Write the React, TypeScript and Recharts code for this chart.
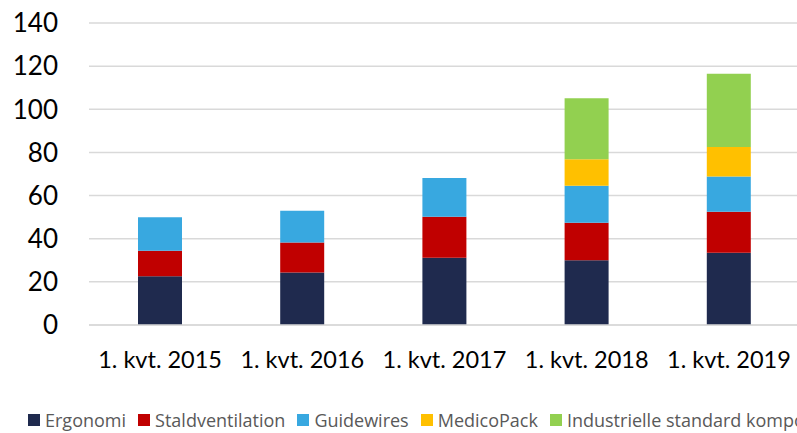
import { Bar, BarChart, CartesianGrid, XAxis, YAxis } from "recharts";

const quarters = ["1. kvt. 2015", "1. kvt. 2016", "1. kvt. 2017", "1. kvt. 2018", "1. kvt. 2019"];
const ergonomi = [22.6, 24.3, 31.2, 30.0, 33.5];
const staldventilation = [11.8, 13.9, 19.0, 17.4, 19.0];
const guidewires = [15.6, 14.8, 17.9, 17.2, 16.3];
const medicoPack = [0, 0, 0, 12.2, 13.7];
const industrielle = [0, 0, 0, 28.3, 34.0];
const yTicks = [0, 20, 40, 60, 80, 100, 120, 140];

const series = [
  { key: "ergonomi", name: "Ergonomi", color: "#1F2A4E" },
  { key: "stald", name: "Staldventilation", color: "#C00000" },
  { key: "guide", name: "Guidewires", color: "#38A8E0" },
  { key: "medico", name: "MedicoPack", color: "#FFC000" },
  { key: "indu", name: "Industrielle standard komponenter", color: "#92D050" },
];

const data = quarters.map((q, i) => ({
  q,
  ergonomi: ergonomi[i],
  stald: staldventilation[i],
  guide: guidewires[i],
  medico: medicoPack[i],
  indu: industrielle[i],
}));

const axisFont = "Lato, 'Open Sans', sans-serif";

export default function App() {
  return (
    <div
      style={{
        position: "absolute",
        left: 0,
        top: 0,
        width: 797,
        height: 433,
        overflow: "hidden",
        background: "#fff",
      }}
    >
      <BarChart
        width={810}
        height={405}
        data={data}
        margin={{ top: 23, right: 10, bottom: 35, left: 0 }}
      >
        <CartesianGrid stroke="#d9d9d9" strokeWidth={1.5} vertical={false} />
        <XAxis
          dataKey="q"
          tickLine={false}
          tickSize={0}
          tickMargin={26}
          height={45}
          axisLine={{ stroke: "#d9d9d9", strokeWidth: 1.5 }}
          tick={{ fill: "#000", fontSize: 23.5, fontFamily: axisFont }}
          interval={0}
        />
        <YAxis
          width={89}
          domain={[0, 140]}
          ticks={yTicks}
          tickLine={false}
          tickSize={0}
          tickMargin={31}
          axisLine={false}
          tick={{ fill: "#000", fontSize: 26, fontFamily: axisFont }}
        />
        {series.map((s) => (
          <Bar
            key={s.key}
            dataKey={s.key}
            name={s.name}
            stackId="a"
            fill={s.color}
            barSize={44}
            isAnimationActive={false}
          />
        ))}
      </BarChart>
      <div
        style={{
          position: "absolute",
          left: 28,
          top: 410,
          display: "flex",
          whiteSpace: "nowrap",
          fontFamily: "'Open Sans', sans-serif",
          fontSize: 18,
          color: "#595959",
          lineHeight: "20px",
        }}
      >
        {series.map((s) => (
          <span
            key={s.key}
            style={{ display: "inline-flex", alignItems: "center", marginRight: 12 }}
          >
            <span
              style={{
                display: "inline-block",
                width: 12,
                height: 12,
                background: s.color,
                marginRight: 5,
              }}
            />
            {s.name}
          </span>
        ))}
      </div>
    </div>
  );
}
